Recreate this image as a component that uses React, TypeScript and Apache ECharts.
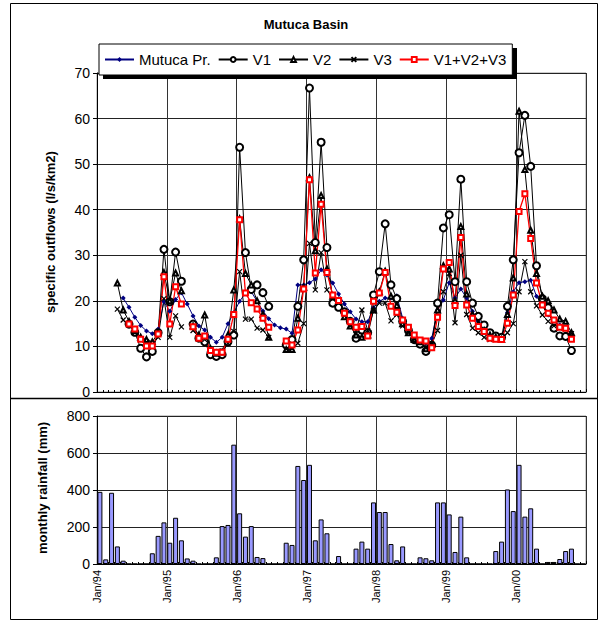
import React, { useEffect, useRef } from "react";
import * as echarts from "echarts";

// month index 0 = Jan/94 ... 83 = Dec/00
const tickLabels = ["Jan/94", "Jan/95", "Jan/96", "Jan/97", "Jan/98", "Jan/99", "Jan/00"];

const mutucaPr = [
  null, null, null, null, 20.6, 18.6, 16.4, 14.6, 13.4, 12.8, 13.8, 19.8,
  17.7, 20.3, 21.8, 19.3, 16.7, 14.5, 13.6, 12.0, 10.9, 12.0, 15.0, 17.4,
  19.9, 21.7, 22.0, 19.9, 17.8, 16.1, 14.7, 14.1, 13.8, 12.9, 23.5, 23.5,
  24.0, 24.8, 26.8, 25.7, 23.9, 21.5, 19.3, 17.6, 16.0, 15.4, 15.4, 18.5,
  19.9, 20.6, 20.6, 21.1, 16.2, 14.4, 12.2, 11.2, 10.7, 11.8, 18.0, 20.2,
  24.0, 20.6, 22.6, 20.6, 17.7, 15.5, 14.4, 12.9, 11.8, 11.5, 17.4, 22.0,
  24.0, 24.2, 24.5, 21.0, 19.0, 16.9, 15.5, 14.7, 14.0, 12.9, null, null,
];

const v1 = [
  null, null, null, null, null, 14.9, 13.1, 9.6, 7.7, 8.9, 13.0, 31.3,
  19.8, 30.7, 24.3, null, 14.9, 11.8, 11.0, 8.2, 7.8, 8.2, 11.0, 12.5,
  53.7, 30.6, 22.5, 23.5, 21.8, 18.8, null, null, 10.3, 11.5, 18.8, 29.0,
  66.7, 32.8, 54.8, 31.7, 19.5, 18.6, 17.6, 15.5, 11.8, 13.6, 13.0, 21.3,
  26.4, 36.9, 23.5, 20.5, 15.5, 13.5, 11.5, 10.5, 8.9, 10.3, 19.5, 36.0,
  38.9, 24.2, 46.7, 24.2, 19.5, 16.6, 14.7, 13.0, 12.3, 12.0, 18.8, 29.0,
  52.5, 60.7, 49.5, 27.7, 20.5, 18.5, 14.0, 12.3, 12.2, 9.1, null, null,
];

const v2 = [
  null, null, null, 23.9, 18.0, 15.5, 13.5, 12.0, 11.5, 11.0, 13.0, 26.2,
  20.0, 26.1, 22.2, null, 14.5, 12.5, 16.9, 9.5, 8.5, 8.8, 12.5, 22.4,
  38.0, 26.0, 23.5, 20.0, 17.0, 12.0, null, null, 9.3, 9.3, 16.2, 23.0,
  47.0, 31.0, 43.1, 27.0, 21.0, 20.0, 16.5, 14.5, 12.5, 12.0, 12.5, 18.0,
  22.0, 26.5, 21.0, 19.0, 15.0, 13.0, 11.5, 11.0, 9.5, 10.5, 18.0, 27.7,
  27.0, 20.0, 36.3, 21.5, 17.0, 15.0, 13.5, 12.5, 12.0, 11.5, 17.0, 25.0,
  61.6, 48.8, 35.5, 26.0, 21.0, 20.0, 18.0, 16.0, 15.5, 13.0, null, null,
];

const v3 = [
  null, null, null, 18.2, 15.8, 14.7, 13.0, 11.5, 11.0, 10.5, 12.0, 20.5,
  12.0, 16.7, 14.3, null, 13.5, 12.0, 11.5, 9.0, 8.5, 9.0, 10.7, 13.3,
  26.4, 16.0, 16.0, 14.0, 13.6, 12.0, null, null, 9.4, 9.6, 10.7, 15.0,
  32.6, 22.4, 30.6, 22.4, 20.5, 19.5, 17.5, 14.5, 13.5, 18.0, 13.5, 17.8,
  19.5, 19.5, 15.6, 17.0, 14.5, 13.0, 11.5, 11.0, 9.8, 10.5, 13.5, 22.0,
  26.0, 15.2, 30.0, 17.0, 14.0, 13.0, 12.0, 11.5, 11.5, 11.5, 13.0, 15.0,
  22.0, 28.6, 22.0, 18.9, 16.9, 15.5, 14.5, 14.0, 13.8, 12.8, null, null,
];

const vSum = [
  null, null, null, null, null, 14.9, 13.8, 11.6, 10.1, 10.1, 12.7, 25.3,
  14.9, 23.1, 19.3, null, 14.3, 11.8, 12.3, 9.1, 8.7, 8.7, 11.6, 17.0,
  37.8, 21.7, 19.6, 18.2, 16.2, 14.2, null, null, 11.2, 10.3, 13.6, 22.6,
  46.6, 26.1, 41.2, 26.2, 21.3, 20.1, 17.3, 15.4, 14.2, 14.4, 12.3, 19.9,
  21.7, 26.2, 18.8, 17.5, 15.8, 14.2, 12.5, 11.4, 11.2, 9.7, 16.4, 27.0,
  28.4, 19.0, 33.9, 19.1, 16.2, 14.4, 13.3, 11.8, 11.6, 11.5, 15.1, 21.3,
  39.6, 43.5, 33.7, 23.9, 19.1, 17.3, 15.8, 14.2, 14.0, 11.6, null, null,
];

const rainfall = [
  390, 25, 385, 95, 18, 0, 0, 0, 0, 58, 152, 225,
  115, 250, 128, 30, 18, 0, 0, 0, 36, 205, 211, 645,
  274, 148, 205, 38, 32, 0, 0, 0, 115, 103, 530, 454,
  536, 128, 241, 166, 0, 43, 0, 0, 83, 121, 83, 333,
  281, 281, 108, 20, 95, 0, 0, 36, 31, 20, 333, 333,
  268, 65, 256, 36, 0, 0, 0, 0, 70, 121, 403, 286,
  536, 256, 301, 83, 0, 11, 11, 27, 70, 83, 0, 0,
];

const FONT = "'Liberation Sans', Arial, sans-serif";

const toXY = (arr: (number | null)[]) =>
  arr.map((v, i) => [i + 0.5, v === null ? "-" : v]);

export default function App() {
  const ref = useRef<HTMLDivElement>(null);
  useEffect(() => {
    if (!ref.current) return;
    const chart = echarts.init(ref.current, null, { renderer: "svg" });
    const xBase = {
      type: "value" as const,
      min: 0,
      max: 84,
      interval: 12,
      axisLine: { show: true, onZero: false, lineStyle: { color: "#000", width: 1 } },
      axisTick: { show: true, inside: true, length: 3, lineStyle: { color: "#000" } },
      minorTick: { show: true, splitNumber: 12, length: 2, lineStyle: { color: "#000" } },
      splitLine: { show: true, lineStyle: { color: "#333", width: 1 } },
    };
    const yLabel = { color: "#000", fontFamily: FONT, fontSize: 14, margin: 7 };
    chart.setOption({
      animation: false,
      backgroundColor: "#fff",
      grid: [
        { left: 97, top: 73, width: 489, height: 319, show: true, borderColor: "#999", borderWidth: 1, containLabel: false },
        { left: 97, top: 416, width: 489, height: 148, show: true, borderColor: "#999", borderWidth: 1, containLabel: false },
      ],
      legend: {
        left: 99,
        top: 44,
        orient: "horizontal",
        padding: [8, 6, 8, 5],
        itemGap: 7,
        itemWidth: 29,
        itemHeight: 6,
        backgroundColor: "#fff",
        borderColor: "#000",
        borderWidth: 1,
        z: 10,
        textStyle: { fontFamily: FONT, fontSize: 15, color: "#000", lineHeight: 15 },
        data: ["Mutuca Pr.", "V1", "V2", "V3", "V1+V2+V3"],
      },
      xAxis: [
        { ...xBase, gridIndex: 0, axisLabel: { show: false } },
        {
          ...xBase,
          gridIndex: 1,
          axisLabel: {
            show: true,
            rotate: 90,
            fontFamily: FONT,
            fontSize: 11,
            color: "#000",
            margin: 6,
            formatter: (v: number) => (tickLabels[v / 12] !== undefined ? tickLabels[v / 12] : ""),
          },
        },
      ],
      yAxis: [
        {
          type: "value",
          gridIndex: 0,
          min: 0,
          max: 70,
          interval: 10,
          axisLine: { show: true, lineStyle: { color: "#000" } },
          axisTick: { show: true, length: 4, lineStyle: { color: "#000" } },
          axisLabel: yLabel,
          splitLine: { show: true, lineStyle: { color: "#222", width: 1 } },
        },
        {
          type: "value",
          gridIndex: 1,
          min: 0,
          max: 800,
          interval: 200,
          axisLine: { show: true, lineStyle: { color: "#000" } },
          axisTick: { show: true, length: 4, lineStyle: { color: "#000" } },
          axisLabel: yLabel,
          splitLine: { show: true, lineStyle: { color: "#222", width: 1 } },
        },
      ],
      graphic: [
        { type: "rect", z: -10, silent: true, shape: { x: 10.5, y: 3.5, width: 587, height: 616 }, style: { fill: "none", stroke: "#000", lineWidth: 1 } },
        { type: "line", z: -10, silent: true, shape: { x1: 10.5, y1: 398.5, x2: 597.5, y2: 398.5 }, style: { stroke: "#000", lineWidth: 1.5 } },
        { type: "rect", z: 9, silent: true, shape: { x: 103, y: 48, width: 414, height: 31 }, style: { fill: "#000" } },
        {
          type: "text", silent: true, x: 306, y: 24,
          style: { text: "Mutuca Basin", fontFamily: FONT, fontSize: 13, fontWeight: "bold", fill: "#000", textAlign: "center", textVerticalAlign: "middle" },
        },
        {
          type: "text", silent: true, x: 50, y: 232, rotation: Math.PI / 2,
          style: { text: "specific outflows (l/s/km2)", fontFamily: FONT, fontSize: 13, fontWeight: "bold", fill: "#000", textAlign: "center", textVerticalAlign: "middle" },
        },
        {
          type: "text", silent: true, x: 42, y: 488, rotation: Math.PI / 2,
          style: { text: "monthly rainfall (mm)", fontFamily: FONT, fontSize: 13, fontWeight: "bold", fill: "#000", textAlign: "center", textVerticalAlign: "middle" },
        },
      ],
      series: [
        {
          name: "Mutuca Pr.", type: "line", xAxisIndex: 0, yAxisIndex: 0, data: toXY(mutucaPr),
          symbol: "diamond", symbolSize: 5, connectNulls: false,
          lineStyle: { color: "#000080", width: 1 }, itemStyle: { color: "#000080" },
        },
        {
          name: "V1", type: "line", xAxisIndex: 0, yAxisIndex: 0, data: toXY(v1),
          symbol: "emptyCircle", symbolSize: 7, connectNulls: false,
          lineStyle: { color: "#000", width: 1 }, itemStyle: { color: "#000", borderWidth: 1 },
        },
        {
          name: "V2", type: "line", xAxisIndex: 0, yAxisIndex: 0, data: toXY(v2),
          symbol: "emptyTriangle", symbolSize: 5, connectNulls: false,
          lineStyle: { color: "#000", width: 1 }, itemStyle: { color: "#000", borderWidth: 1 },
        },
        {
          name: "V3", type: "line", xAxisIndex: 0, yAxisIndex: 0, data: toXY(v3),
          symbol: "path://M0,0L10,10M10,0L0,10", symbolSize: 5, connectNulls: false,
          lineStyle: { color: "#000", width: 1 }, itemStyle: { color: "#000", borderColor: "#000", borderWidth: 1.2 },
        },
        {
          name: "V1+V2+V3", type: "line", xAxisIndex: 0, yAxisIndex: 0, data: toXY(vSum),
          symbol: "emptyRect", symbolSize: 5, connectNulls: false,
          lineStyle: { color: "#ff0000", width: 1.3 }, itemStyle: { color: "#ff0000", borderWidth: 1 },
        },
        {
          name: "rainfall", type: "bar", xAxisIndex: 1, yAxisIndex: 1, data: toXY(rainfall),
          barWidth: 5, itemStyle: { color: "#9999ff", borderColor: "#000", borderWidth: 1 },
        },
      ],
    });
    return () => chart.dispose();
  }, []);
  return <div ref={ref} style={{ width: 605, height: 623, position: "absolute", left: 0, top: 0 }} />;
}
